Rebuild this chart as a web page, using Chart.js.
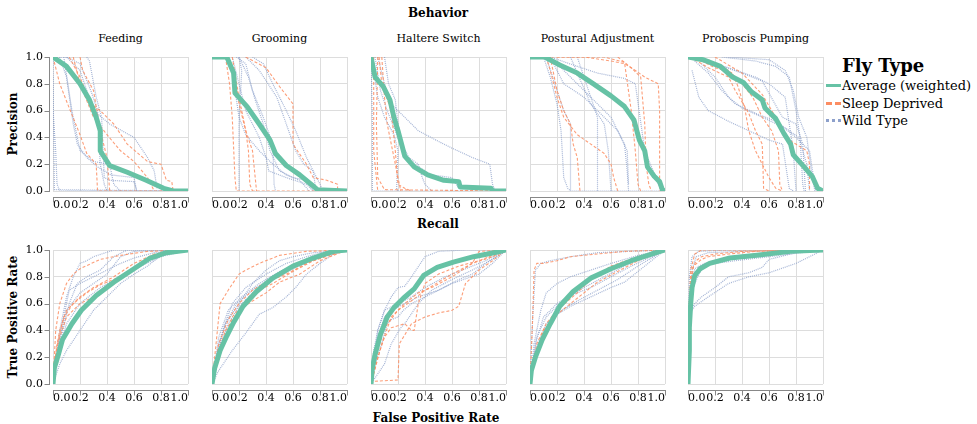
<!DOCTYPE html>
<html>
<head>
<meta charset="utf-8">
<script src="https://cdn.jsdelivr.net/npm/chart.js@4/dist/chart.umd.min.js"></script>
<style>
  body { margin: 0; background: #fff; font-family: "DejaVu Serif", serif; }
  #wrap { position: relative; width: 977px; height: 424px; overflow: hidden; }
  canvas { position: absolute; }
  .lbl { position: absolute; transform: translate(-50%, -50%); white-space: nowrap; color: #000; }
  .title { font-size: 11px; }
  .head { font-size: 12px; font-weight: bold; }
  .rot { transform: translate(-50%, -50%) rotate(-90deg); }
  #legend { position: absolute; left: 826px; top: 55px; }
  #legend .lt { font-size: 18px; font-weight: bold; margin-left: 16px; line-height: 22px; }
  #legend .row { display: flex; align-items: center; height: 17.5px; font-size: 13px; }
  #legend .sym { width: 15px; margin-right: 1px; }
</style>
</head>
<body>
<div id="wrap">
  <div class="lbl head" style="left:438px;top:13px">Behavior</div>
  <div class="lbl head" style="left:438px;top:224px">Recall</div>
  <div class="lbl head" style="left:436px;top:418px">False Positive Rate</div>
  <div class="lbl head rot" style="left:13px;top:124px">Precision</div>
  <div class="lbl head rot" style="left:13px;top:317px">True Positive Rate</div>
  <div id="legend">
    <div class="lt">Fly Type</div>
    <div class="row"><span class="sym" style="border-top:3px solid #66c2a5"></span>Average (weighted)</div>
    <div class="row"><span class="sym" style="border-top:3px dashed #fc8d62"></span>Sleep Deprived</div>
    <div class="row"><span class="sym" style="border-top:3px dotted #8da0cb"></span>Wild Type</div>
  </div>
</div>
<script>
const behaviors = ['Feeding', 'Grooming', 'Haltere Switch', 'Postural Adjustment', 'Proboscis Pumping'];
const tickValues = [0, 0.2, 0.4, 0.6, 0.8, 1.0];

// precision / recall curves: [recall, precision]
const feedingPrAvg = [[0,1],[0.1,0.93],[0.2,0.8],[0.27,0.68],[0.32,0.55],[0.35,0.45],[0.35,0.3],[0.42,0.19],[0.55,0.14],[0.69,0.08],[0.82,0.02],[0.89,0],[1,0]];
const feedingPrSleep = [
  [[0,1],[0.05,0.8],[0.12,0.62],[0.2,0.42],[0.25,0.28],[0.32,0.2],[0.33,0],[1,0]],
  [[0.12,1],[0.2,0.85],[0.28,0.65],[0.35,0.6],[0.45,0.5],[0.55,0.35],[0.7,0.22],[0.8,0.2],[0.84,0.08],[0.88,0.07],[0.89,0]],
  [[0.15,1],[0.2,0.8],[0.3,0.55],[0.4,0.42],[0.5,0.3],[0.6,0.22],[0.7,0.1],[0.75,0]],
  [[0.2,1],[0.22,0.9],[0.3,0.75],[0.35,0.45],[0.4,0.25],[0.42,0]]
];
const feedingPrWild = [
  [[0,1],[0,0.6],[0.02,0.3],[0.03,0.05],[0.05,0],[1,0]],
  [[0,1],[0.1,1],[0.2,0.95],[0.28,0.75],[0.33,0.6],[0.35,0.2],[0.38,0.05],[0.4,0]],
  [[0.25,1],[0.27,0.97],[0.32,0.7],[0.36,0.55],[0.38,0.1],[0.42,0.08],[0.6,0.07],[0.62,0]],
  [[0.05,1],[0.1,0.85],[0.15,0.5],[0.18,0.35],[0.25,0.25],[0.33,0.18],[0.43,0.12],[0.6,0.1],[0.62,0]],
  [[0.1,1],[0.2,0.9],[0.3,0.6],[0.42,0.5],[0.6,0.4],[0.7,0.25],[0.75,0.15],[0.77,0.02]],
  [[0.08,1],[0.14,0.6],[0.2,0.3],[0.3,0.22],[0.42,0.2],[0.45,0.05],[0.5,0]],
  [[0,0.85],[0.01,0.01],[1,0]]
];

const groomingPrAvg = [[0,1],[0.11,1],[0.16,0.88],[0.17,0.73],[0.26,0.63],[0.35,0.5],[0.43,0.38],[0.47,0.28],[0.55,0.19],[0.65,0.12],[0.74,0.045],[0.78,0.01],[1,0]];
const groomingPrSleep = [
  [[0.1,1],[0.13,0.8],[0.15,0.55],[0.17,0.1],[0.18,0],[1,0]],
  [[0.12,1],[0.17,0.85],[0.2,0.65],[0.25,0.45],[0.27,0.3],[0.28,0.05],[0.3,0]],
  [[0.15,1],[0.2,0.7],[0.25,0.45],[0.3,0.3],[0.32,0.1],[0.33,0]],
  [[0.25,1],[0.4,0.92],[0.5,0.78],[0.6,0.65],[0.6,0.35],[0.7,0.2],[0.75,0.1],[0.85,0.08],[0.93,0.05],[0.93,0]]
];
const groomingPrWild = [
  [[0.18,1],[0.25,0.95],[0.3,0.75],[0.38,0.55],[0.45,0.35],[0.46,0.05],[0.47,0]],
  [[0.3,1],[0.38,0.95],[0.45,0.8],[0.55,0.6],[0.62,0.45],[0.7,0.25],[0.75,0.15],[0.77,0]],
  [[0.25,1],[0.35,0.9],[0.48,0.7],[0.55,0.5],[0.62,0.3],[0.68,0.2],[0.75,0.15],[0.8,0.05],[0.82,0]],
  [[0.15,1],[0.2,0.8],[0.25,0.6],[0.3,0.5],[0.35,0.4],[0.4,0.25],[0.42,0.15],[0.55,0.1],[0.7,0.05],[0.75,0]],
  [[0.2,1],[0.27,0.85],[0.32,0.68],[0.38,0.5],[0.43,0.3],[0.5,0.15],[0.6,0.1],[0.7,0.08],[0.75,0]],
  [[0.2,1],[0.22,0.9],[0.2,0.5],[0.2,0]],
  [[0.1,1],[0.15,0.9],[0.2,0.55],[0.25,0.42],[0.35,0.3],[0.45,0.2],[0.55,0.12],[0.65,0.08],[0.72,0]]
];

const halterePrAvg = [[0,1],[0.03,0.85],[0.09,0.78],[0.14,0.68],[0.17,0.55],[0.2,0.45],[0.25,0.26],[0.32,0.18],[0.42,0.12],[0.54,0.08],[0.65,0.07],[0.66,0.03],[0.89,0.02],[0.9,0],[1,0]];
const halterePrSleep = [
  [[0.05,1],[0.04,0.5],[0.05,0.1],[0.1,0.01],[1,0]],
  [[0.06,1],[0.08,0.8],[0.15,0.6],[0.18,0.3],[0.2,0.05],[0.25,0.02],[0.3,0]],
  [[0.02,1],[0.02,0.3],[0.05,0]],
  [[0.08,1],[0.1,0.7],[0.12,0.5],[0.16,0.3],[0.2,0.1],[0.22,0]]
];
const halterePrWild = [
  [[0.05,1],[0.1,0.8],[0.15,0.65],[0.25,0.55],[0.35,0.45],[0.5,0.37],[0.6,0.32],[0.75,0.25],[0.88,0.2],[0.9,0.05],[0.92,0]],
  [[0.1,1],[0.13,0.8],[0.18,0.68],[0.2,0.5],[0.23,0.35],[0.28,0.25],[0.35,0.2],[0.38,0.1],[0.4,0.05],[0.45,0]],
  [[0.02,0.9],[0.05,0.7],[0.1,0.55],[0.17,0.42],[0.2,0.3],[0.19,0.02],[0.2,0]],
  [[0.03,1],[0.07,0.75],[0.12,0.6],[0.18,0.45],[0.25,0.25],[0.35,0.18],[0.45,0.12],[0.6,0.1],[0.65,0.02]],
  [[0,1],[0.01,0.5],[0.01,0],[1,0]]
];

const posturalPrAvg = [[0,1],[0.11,1],[0.22,0.94],[0.35,0.88],[0.47,0.8],[0.6,0.71],[0.7,0.63],[0.77,0.53],[0.81,0.38],[0.85,0.3],[0.87,0.18],[0.92,0.11],[0.96,0.07],[0.98,0.01],[1,0]];
const posturalPrSleep = [
  [[0.12,1],[0.4,1],[0.6,0.97],[0.7,0.95],[0.78,0.9],[0.85,0.85],[0.95,0.8],[0.96,0.6],[0.96,0]],
  [[0.2,1],[0.55,1],[0.7,0.96],[0.75,0.6],[0.78,0.3],[0.8,0.05],[0.82,0]],
  [[0.65,1],[0.75,0.92],[0.82,0.85],[0.85,0.5],[0.86,0.2],[0.88,0.05],[0.9,0]],
  [[0.12,1],[0.15,0.9],[0.2,0.7],[0.25,0.55],[0.35,0.42],[0.45,0.35],[0.55,0.28],[0.6,0.2],[0.62,0.1],[0.65,0]],
  [[0.15,1],[0.2,0.75],[0.25,0.6],[0.3,0.5],[0.32,0.35],[0.35,0.25],[0.37,0]]
];
const posturalPrWild = [
  [[0.1,1],[0.15,0.85],[0.2,0.65],[0.23,0.45],[0.25,0.1],[0.28,0.02],[0.3,0],[1,0]],
  [[0.12,1],[0.2,0.75],[0.25,0.6],[0.3,0.5],[0.3,0]],
  [[0.15,1],[0.35,0.93],[0.5,0.88],[0.7,0.84],[0.78,0.8],[0.85,0.3],[0.9,0.18],[0.95,0.05],[1,0]],
  [[0.35,1],[0.4,0.85],[0.45,0.7],[0.5,0.55],[0.5,0.2],[0.5,0]],
  [[0.3,1],[0.35,0.88],[0.45,0.65],[0.55,0.5],[0.58,0.3],[0.6,0]],
  [[0.2,0.95],[0.35,0.8],[0.5,0.65],[0.6,0.55],[0.7,0.35],[0.72,0.15],[0.73,0]],
  [[0.15,1],[0.25,0.8],[0.4,0.7],[0.55,0.55],[0.65,0.45],[0.72,0.3],[0.73,0.05]]
];

const proboscisPrAvg = [[0,1],[0.11,0.98],[0.24,0.93],[0.33,0.85],[0.41,0.81],[0.47,0.74],[0.55,0.68],[0.57,0.62],[0.65,0.54],[0.71,0.43],[0.76,0.35],[0.78,0.27],[0.86,0.18],[0.92,0.11],[0.96,0.02],[1,0]];
const proboscisPrSleep = [
  [[0.05,0.98],[0.15,0.92],[0.3,0.85],[0.35,0.75],[0.45,0.58],[0.5,0.45],[0.55,0.35],[0.56,0.02],[0.6,0]],
  [[0.1,0.97],[0.2,0.92],[0.33,0.88],[0.37,0.78],[0.42,0.62],[0.45,0.45],[0.5,0.3],[0.6,0.1],[0.65,0.02],[0.7,0]],
  [[0.15,0.98],[0.3,0.9],[0.4,0.8],[0.48,0.7],[0.55,0.55],[0.62,0.45],[0.67,0.3],[0.68,0.05],[0.7,0]],
  [[0.2,1],[0.4,0.88],[0.55,0.72],[0.65,0.55],[0.75,0.38],[0.88,0.3],[0.9,0.2],[0.9,0]]
];
const proboscisPrWild = [
  [[0.03,0.9],[0.08,0.7],[0.15,0.6],[0.3,0.52],[0.45,0.45],[0.6,0.38],[0.7,0.35],[0.75,0.02],[0.78,0]],
  [[0.1,0.98],[0.3,0.92],[0.5,0.85],[0.6,0.8],[0.72,0.7],[0.78,0.3],[0.8,0]],
  [[0.25,1],[0.5,0.97],[0.65,0.93],[0.75,0.85],[0.8,0.6],[0.83,0.4],[0.85,0.05],[0.86,0]],
  [[0.3,1],[0.6,0.98],[0.72,0.9],[0.78,0.75],[0.82,0.55],[0.88,0.4],[0.92,0.1],[0.94,0]],
  [[0.1,0.95],[0.2,0.85],[0.3,0.7],[0.4,0.62],[0.55,0.55],[0.7,0.48],[0.8,0.4],[0.9,0.3],[0.93,0.1],[0.95,0]],
  [[0.05,0.97],[0.15,0.88],[0.25,0.75],[0.35,0.65],[0.5,0.58],[0.65,0.52],[0.75,0.45],[0.82,0.4],[0.88,0.2],[0.9,0]],
  [[0.2,0.95],[0.4,0.88],[0.55,0.82],[0.7,0.55],[0.8,0.5],[0.85,0.35],[0.87,0]]
];

// ROC curves: [false positive rate, true positive rate]
const feedingRocAvg = [[0,0],[0.01,0.12],[0.04,0.22],[0.07,0.33],[0.14,0.45],[0.21,0.55],[0.32,0.66],[0.45,0.76],[0.6,0.86],[0.72,0.94],[0.84,0.98],[1,1]];
const feedingRocSleep = [
  [[0,0],[0.02,0.4],[0.05,0.6],[0.1,0.75],[0.15,0.82],[0.2,0.86],[0.35,0.93],[0.5,0.96],[0.7,0.99],[1,1]],
  [[0,0.05],[0.03,0.3],[0.08,0.5],[0.15,0.6],[0.25,0.68],[0.35,0.74],[0.45,0.78],[0.6,0.86],[0.75,0.95],[1,1]],
  [[0,0],[0.05,0.35],[0.1,0.5],[0.2,0.6],[0.3,0.65],[0.4,0.72],[0.55,0.82],[0.7,0.92],[0.8,0.98],[1,1]],
  [[0,0.1],[0.05,0.4],[0.1,0.55],[0.2,0.65],[0.3,0.72],[0.45,0.8],[0.6,0.9],[0.75,0.97],[1,1]]
];
const feedingRocWild = [
  [[0,0],[0.05,0.15],[0.1,0.25],[0.2,0.4],[0.3,0.55],[0.4,0.65],[0.5,0.75],[0.6,0.82],[0.7,0.88],[0.8,0.96],[1,1]],
  [[0,0],[0.05,0.4],[0.1,0.65],[0.15,0.8],[0.2,0.9],[0.25,0.92],[0.3,0.95],[0.45,1],[1,1]],
  [[0,0],[0.04,0.3],[0.1,0.55],[0.2,0.68],[0.3,0.75],[0.4,0.82],[0.5,0.95],[0.6,0.99],[1,1]],
  [[0,0],[0.05,0.3],[0.12,0.6],[0.18,0.75],[0.25,0.8],[0.35,0.85],[0.45,0.95],[0.55,1],[1,1]],
  [[0,0],[0.03,0.2],[0.1,0.45],[0.2,0.6],[0.35,0.72],[0.5,0.8],[0.65,0.88],[0.8,0.95],[1,1]],
  [[0,0],[0.05,0.35],[0.12,0.7],[0.2,0.75],[0.3,0.8],[0.4,0.85],[0.5,0.9],[0.6,0.94],[0.75,0.98],[1,1]]
];

const groomingRocAvg = [[0,0],[0.02,0.12],[0.06,0.25],[0.11,0.36],[0.16,0.46],[0.23,0.58],[0.33,0.69],[0.45,0.79],[0.6,0.88],[0.75,0.94],[0.9,0.99],[1,1]];
const groomingRocSleep = [
  [[0,0],[0.03,0.3],[0.06,0.6],[0.12,0.7],[0.2,0.82],[0.25,0.85],[0.35,0.9],[0.5,0.96],[0.7,0.99],[1,1]],
  [[0,0],[0.05,0.25],[0.1,0.4],[0.2,0.55],[0.3,0.62],[0.4,0.68],[0.5,0.76],[0.65,0.82],[0.8,0.92],[1,1]],
  [[0,0.02],[0.05,0.3],[0.12,0.48],[0.2,0.6],[0.3,0.7],[0.4,0.76],[0.55,0.82],[0.7,0.9],[0.85,0.96],[1,1]],
  [[0,0],[0.08,0.3],[0.15,0.5],[0.25,0.62],[0.35,0.7],[0.45,0.75],[0.6,0.84],[0.75,0.92],[1,1]]
];
const groomingRocWild = [
  [[0,0],[0.05,0.1],[0.15,0.25],[0.25,0.38],[0.35,0.52],[0.45,0.57],[0.55,0.65],[0.62,0.72],[0.7,0.82],[0.8,0.9],[0.9,0.97],[1,1]],
  [[0,0],[0.05,0.3],[0.1,0.45],[0.2,0.6],[0.3,0.75],[0.4,0.85],[0.5,0.92],[0.6,0.95],[0.75,0.98],[1,1]],
  [[0,0],[0.05,0.25],[0.12,0.45],[0.2,0.58],[0.3,0.68],[0.45,0.78],[0.6,0.86],[0.75,0.93],[0.9,0.98],[1,1]],
  [[0,0],[0.03,0.2],[0.1,0.45],[0.18,0.6],[0.3,0.7],[0.45,0.8],[0.6,0.88],[0.8,0.95],[1,1]],
  [[0,0],[0.05,0.35],[0.12,0.55],[0.22,0.65],[0.35,0.75],[0.5,0.84],[0.65,0.9],[0.85,0.96],[1,1]],
  [[0,0],[0.08,0.4],[0.15,0.6],[0.25,0.72],[0.4,0.82],[0.55,0.9],[0.7,0.95],[0.85,0.99],[1,1]]
];

const haltereRocAvg = [[0,0],[0.01,0.12],[0.03,0.22],[0.07,0.37],[0.12,0.5],[0.17,0.57],[0.24,0.64],[0.32,0.71],[0.39,0.81],[0.49,0.87],[0.61,0.91],[0.76,0.95],[0.91,0.98],[1,1]];
const haltereRocSleep = [
  [[0,0],[0.02,0.02],[0.2,0.03],[0.21,0.3],[0.3,0.45],[0.4,0.5],[0.5,0.53],[0.6,0.55],[0.65,0.58],[0.7,0.75],[0.8,0.85],[0.9,0.92],[1,1]],
  [[0,0],[0.05,0.2],[0.1,0.35],[0.15,0.42],[0.25,0.45],[0.3,0.4],[0.32,0.4],[0.35,0.6],[0.4,0.75],[0.5,0.82],[0.65,0.88],[0.8,0.92],[1,1]],
  [[0,0],[0.05,0.25],[0.1,0.42],[0.2,0.55],[0.3,0.62],[0.4,0.7],[0.5,0.76],[0.6,0.82],[0.75,0.9],[0.9,0.95],[1,1]],
  [[0,0],[0.08,0.3],[0.15,0.5],[0.25,0.6],[0.35,0.68],[0.45,0.72],[0.6,0.8],[0.75,0.9],[0.8,0.99],[1,1]]
];
const haltereRocWild = [
  [[0,0],[0.02,0.25],[0.05,0.4],[0.1,0.55],[0.15,0.65],[0.2,0.72],[0.25,0.73],[0.3,0.8],[0.4,0.95],[0.5,0.99],[0.7,1],[1,1]],
  [[0,0],[0.03,0.15],[0.08,0.3],[0.12,0.45],[0.15,0.48],[0.2,0.5],[0.24,0.55],[0.3,0.6],[0.4,0.65],[0.5,0.7],[0.65,0.78],[0.75,0.82],[0.85,0.9],[1,1]],
  [[0,0],[0.05,0.35],[0.1,0.5],[0.15,0.55],[0.25,0.6],[0.35,0.65],[0.5,0.7],[0.6,0.75],[0.8,0.82],[0.9,0.9],[1,1]],
  [[0,0],[0.05,0.4],[0.1,0.55],[0.2,0.6],[0.3,0.65],[0.4,0.72],[0.55,0.8],[0.7,0.86],[0.85,0.92],[1,1]],
  [[0,0],[0.1,0.15],[0.15,0.3],[0.22,0.42],[0.25,0.45],[0.35,0.6],[0.45,0.7],[0.6,0.78],[0.75,0.85],[0.9,0.93],[1,1]]
];

const posturalRocAvg = [[0,0],[0.01,0.1],[0.04,0.2],[0.09,0.33],[0.15,0.45],[0.22,0.58],[0.32,0.69],[0.45,0.79],[0.6,0.86],[0.75,0.92],[0.9,0.97],[1,1]];
const posturalRocSleep = [
  [[0,0],[0.02,0.5],[0.03,0.85],[0.05,0.9],[0.1,0.9],[0.2,0.92],[0.3,0.95],[0.5,0.97],[0.7,0.99],[1,1]],
  [[0,0],[0.05,0.25],[0.1,0.4],[0.2,0.52],[0.3,0.6],[0.4,0.68],[0.5,0.76],[0.65,0.84],[0.8,0.92],[1,1]],
  [[0,0],[0.05,0.3],[0.12,0.45],[0.2,0.55],[0.35,0.68],[0.45,0.78],[0.6,0.88],[0.8,0.95],[1,1]]
];
const posturalRocWild = [
  [[0,0],[0.02,0.5],[0.04,0.85],[0.08,0.9],[0.15,0.92],[0.3,0.95],[0.5,0.98],[1,1]],
  [[0,0],[0.03,0.3],[0.08,0.55],[0.12,0.68],[0.2,0.75],[0.3,0.8],[0.45,0.85],[0.6,0.9],[0.8,0.96],[1,1]],
  [[0,0],[0.05,0.25],[0.12,0.42],[0.2,0.52],[0.3,0.58],[0.45,0.65],[0.6,0.72],[0.7,0.76],[0.85,0.88],[1,1]],
  [[0,0],[0.05,0.28],[0.12,0.45],[0.25,0.56],[0.35,0.62],[0.5,0.7],[0.65,0.78],[0.8,0.88],[1,1]],
  [[0,0],[0.04,0.3],[0.1,0.5],[0.2,0.6],[0.3,0.66],[0.45,0.72],[0.6,0.8],[0.75,0.88],[0.9,0.95],[1,1]],
  [[0,0],[0.05,0.35],[0.12,0.5],[0.25,0.63],[0.4,0.72],[0.55,0.8],[0.7,0.88],[0.85,0.95],[1,1]]
];

const proboscisRocAvg = [[0,0],[0.01,0.25],[0.01,0.42],[0.02,0.6],[0.03,0.72],[0.05,0.81],[0.09,0.86],[0.16,0.9],[0.31,0.94],[0.51,0.96],[0.76,0.99],[1,1]];
const proboscisRocSleep = [
  [[0,0],[0.01,0.6],[0.02,0.85],[0.05,0.97],[0.1,1],[1,1]],
  [[0,0],[0.01,0.6],[0.03,0.85],[0.06,0.92],[0.1,0.95],[0.2,0.97],[0.4,0.99],[1,1]],
  [[0,0],[0.02,0.7],[0.04,0.88],[0.1,0.93],[0.15,0.95],[0.3,0.97],[0.5,0.99],[1,1]]
];
const proboscisRocWild = [
  [[0,0.5],[0.05,0.58],[0.15,0.65],[0.3,0.75],[0.45,0.8],[0.6,0.83],[0.8,0.9],[1,1]],
  [[0,0.52],[0.05,0.6],[0.1,0.65],[0.2,0.72],[0.3,0.8],[0.45,0.83],[0.55,0.87],[0.6,0.93],[0.8,0.98],[1,1]],
  [[0,0.55],[0.03,0.7],[0.08,0.82],[0.12,0.88],[0.2,0.9],[0.35,0.92],[0.6,0.95],[1,1]],
  [[0,0],[0.01,0.6],[0.03,0.85],[0.06,0.95],[0.15,0.98],[0.4,0.99],[1,1]],
  [[0,0],[0.02,0.7],[0.05,0.86],[0.12,0.9],[0.3,0.94],[0.55,0.97],[1,1]],
  [[0,0],[0.01,0.8],[0.03,0.95],[0.08,0.99],[0.3,1],[1,1]]
];

const panels = [
  [feedingPrAvg, feedingPrSleep, feedingPrWild],
  [groomingPrAvg, groomingPrSleep, groomingPrWild],
  [halterePrAvg, halterePrSleep, halterePrWild],
  [posturalPrAvg, posturalPrSleep, posturalPrWild],
  [proboscisPrAvg, proboscisPrSleep, proboscisPrWild],
  [feedingRocAvg, feedingRocSleep, feedingRocWild],
  [groomingRocAvg, groomingRocSleep, groomingRocWild],
  [haltereRocAvg, haltereRocSleep, haltereRocWild],
  [posturalRocAvg, posturalRocSleep, posturalRocWild],
  [proboscisRocAvg, proboscisRocSleep, proboscisRocWild]
];

const colLeft = [53, 212, 371, 530, 688];
const rowTop = [57, 250];
const PLOT_W = 135, PLOT_H = 134;
const PAD = 8, AXIS_W = 53, AXIS_H = 26;
const tickFont = {family: '"DejaVu Serif", serif', size: 11};

const toXY = pts => pts.map(p => ({x: p[0], y: p[1]}));

// offset axis lines drawn under the plot, vega style
const axisDomain = {
  id: 'axisDomain',
  afterDraw(chart, args, opts) {
    const {ctx, chartArea: a, scales: {x, y}} = chart;
    ctx.save();
    ctx.strokeStyle = '#888';
    ctx.lineWidth = 1;
    ctx.beginPath();
    const yb = Math.round(a.bottom + 6) + 0.5;
    ctx.moveTo(a.left, yb);
    ctx.lineTo(a.right + 1, yb);
    x.ticks.forEach(t => {
      const px = Math.round(x.getPixelForValue(t.value)) + 0.5;
      ctx.moveTo(px, yb);
      ctx.lineTo(px, yb + 5);
    });
    if (opts.showY) {
      const xl = Math.round(a.left - 4) + 0.5;
      ctx.moveTo(xl, a.top);
      ctx.lineTo(xl, a.bottom + 1);
      y.ticks.forEach(t => {
        const py = Math.round(y.getPixelForValue(t.value)) + 0.5;
        ctx.moveTo(xl, py);
        ctx.lineTo(xl - 5, py);
      });
    }
    ctx.stroke();
    ctx.restore();
  }
};

const wrap = document.getElementById('wrap');

panels.forEach((panel, i) => {
  const col = i % 5, row = Math.floor(i / 5);
  const [avg, sleep, wild] = panel;

  if (row === 0) {
    const t = document.createElement('div');
    t.className = 'lbl title';
    t.style.left = (colLeft[col] + PLOT_W / 2) + 'px';
    t.style.top = '38px';
    t.textContent = behaviors[col];
    wrap.appendChild(t);
  }

  const cv = document.createElement('canvas');
  cv.width = AXIS_W + PLOT_W + PAD;
  cv.height = PAD + PLOT_H + AXIS_H;
  cv.style.left = (colLeft[col] - AXIS_W) + 'px';
  cv.style.top = (rowTop[row] - PAD) + 'px';
  wrap.appendChild(cv);

  const datasets = [{
    label: 'Average (weighted)',
    data: toXY(avg),
    borderColor: '#66c2a5',
    borderWidth: 5,
    order: 0
  }];
  sleep.forEach(s => datasets.push({
    label: 'Sleep Deprived',
    data: toXY(s),
    borderColor: 'rgba(252,141,98,0.85)',
    borderWidth: 1.1,
    borderDash: [3, 2],
    order: 1
  }));
  wild.forEach(w => datasets.push({
    label: 'Wild Type',
    data: toXY(w),
    borderColor: 'rgba(141,160,203,0.8)',
    borderWidth: 1.2,
    borderDash: [1, 1],
    order: 2
  }));

  new Chart(cv, {
    type: 'line',
    data: {datasets},
    options: {
      responsive: false,
      animation: false,
      layout: {padding: {top: PAD, right: PAD, left: 0, bottom: 0}},
      elements: {point: {radius: 0}, line: {tension: 0, borderJoinStyle: 'round'}},
      plugins: {legend: {display: false}, tooltip: {enabled: false}, axisDomain: {showY: col === 0}},
      scales: {
        x: {
          type: 'linear', min: 0, max: 1,
          afterBuildTicks: s => { s.ticks = tickValues.map(v => ({value: v})); },
          afterFit: s => { s.height = AXIS_H; s.paddingLeft = 0; s.paddingRight = 0; },
          grid: {color: '#ddd', drawTicks: false},
          border: {display: false},
          ticks: {
            align: 'inner', padding: 8, color: '#000',
            font: tickFont,
            maxRotation: 0, autoSkip: false,
            callback: v => v.toFixed(1)
          }
        },
        y: {
          type: 'linear', min: 0, max: 1,
          afterBuildTicks: s => { s.ticks = tickValues.map(v => ({value: v})); },
          afterFit: s => { s.width = AXIS_W; s.paddingTop = 0; s.paddingBottom = 0; },
          grid: {color: '#ddd', drawTicks: false},
          border: {display: false},
          ticks: {
            display: col === 0, padding: 10, color: '#000',
            font: tickFont,
            callback: v => v.toFixed(1)
          }
        }
      }
    },
    plugins: [axisDomain]
  });
});
</script>
</body>
</html>
